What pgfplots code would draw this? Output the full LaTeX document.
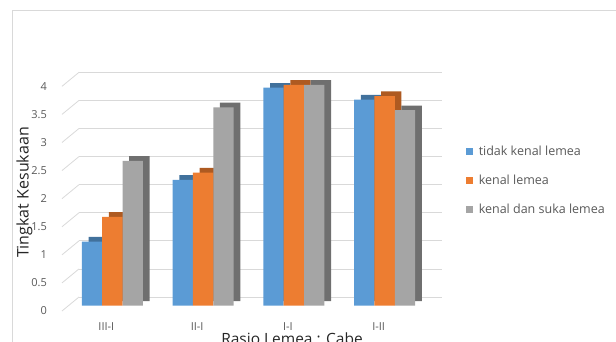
\documentclass[border=0pt]{standalone}
\usepackage{pgfplots}
\pgfplotsset{compat=1.18}
\usepackage{fontspec}
\setmainfont{Open Sans}
\definecolor{cblue}{HTML}{5B9BD5}
\definecolor{corange}{HTML}{ED7D31}
\definecolor{cgray}{HTML}{A5A5A5}
\definecolor{cbluedk}{HTML}{41719C}
\definecolor{corangedk}{HTML}{AE5A21}
\definecolor{cgraydk}{HTML}{6F6F6F}
\definecolor{gridc}{HTML}{D9D9D9}
\definecolor{tickc}{HTML}{595959}
\definecolor{framec}{HTML}{D9D9D9}
\begin{document}
\begin{tikzpicture}
\path[use as bounding box] (0,0) rectangle (616pt,-342pt);
\draw[framec, line width=0.8pt] (12pt,-360pt) -- (12pt,-10.5pt) -- (640pt,-10.5pt);
\begin{axis}[
  at={(79pt,-297pt)}, anchor=south west,
  scale only axis, width=363pt, height=224.7pt,
  xmin=-0.5, xmax=3.5, ymin=0, ymax=4,
  ybar, bar width=20.3pt,
  clip=false,
  axis line style={draw=none},
  major tick length=0pt,
  ymajorgrids, grid style={gridc, line width=0.8pt},
  ytick={0,0.5,1,1.5,2,2.5,3,3.5,4},
  yticklabels={0,0.5,1,1.5,2,2.5,3,3.5,4},
  xtick={0,1,2,3}, xticklabels={III-I,II-I,I-I,I-II},
  yticklabel style={font=\fontsize{11}{13}\selectfont, text=tickc, inner sep=0pt, anchor=east, xshift=-32pt, yshift=-14pt},
  xticklabel style={font=\fontsize{11}{13}\selectfont, text=tickc, inner sep=0pt, anchor=center, xshift=-18pt, yshift=-29.7pt},
  legend image code/.code={\fill[#1,draw=none] (0pt,-3.5pt) rectangle (7pt,3.5pt); \path (10.5pt,0pt);},
  legend style={at={(rel axis cs:1.058,0.52)}, anchor=west, draw=none, fill=none,
    font=\fontsize{12.5}{15}\selectfont, text=tickc, row sep=14pt},
  legend cell align=left,
]
\addlegendimage{fill=cblue, draw=none}
\addlegendimage{fill=corange, draw=none}
\addlegendimage{fill=cgray, draw=none}
\addplot[fill=cbluedk, draw=none, bar shift=-20.3pt, xshift=-5.3pt, yshift=-4pt, forget plot] coordinates {(0,1.14) (1,2.24) (2,3.88) (3,3.67)};
\addplot[fill=cblue, draw=none, bar shift=-20.3pt, xshift=-12pt, yshift=-8.7pt, forget plot] coordinates {(0,1.14) (1,2.24) (2,3.88) (3,3.67)};
\addplot[fill=corangedk, draw=none, bar shift=0pt, xshift=-5.3pt, yshift=-4pt, forget plot] coordinates {(0,1.58) (1,2.37) (2,3.93) (3,3.73)};
\addplot[fill=corange, draw=none, bar shift=0pt, xshift=-12pt, yshift=-8.7pt, forget plot] coordinates {(0,1.58) (1,2.37) (2,3.93) (3,3.73)};
\addplot[fill=cgraydk, draw=none, bar shift=20.3pt, xshift=-5.3pt, yshift=-4pt, forget plot] coordinates {(0,2.58) (1,3.53) (2,3.93) (3,3.48)};
\addplot[fill=cgray, draw=none, bar shift=20.3pt, xshift=-12pt, yshift=-8.7pt, forget plot] coordinates {(0,2.58) (1,3.53) (2,3.93) (3,3.48)};
\legend{tidak kenal lemea, kenal lemea, kenal dan suka lemea}
\pgfplotsinvokeforeach{0,0.5,1,1.5,2,2.5,3,3.5,4}{
  \draw[gridc, line width=0.8pt] ([xshift=-17pt,yshift=-14pt]axis cs:-0.5,#1) -- (axis cs:-0.5,#1);
}
\end{axis}
\node[rotate=90, font=\fontsize{16}{18}\selectfont, text=black!85] at (24.5pt,-192.5pt) {Tingkat Kesukaan};
\node[anchor=base, font=\fontsize{15.5}{17}\selectfont, text=black!85] at (292pt,-344.5pt) {Rasio Lemea : Cabe};
\end{tikzpicture}
\end{document}
